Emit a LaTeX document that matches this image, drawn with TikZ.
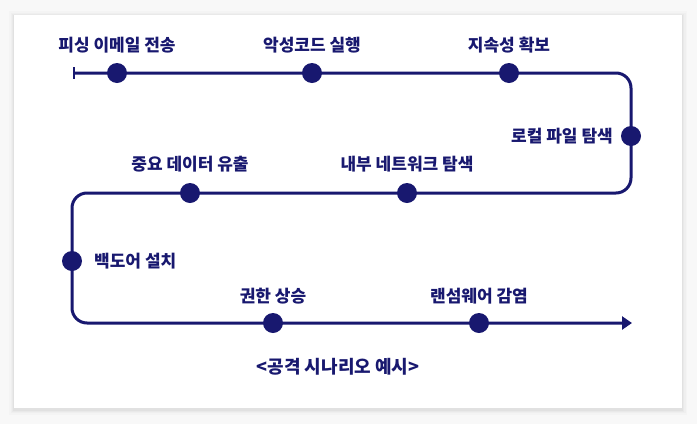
\documentclass[tikz,border=0pt]{standalone}
\usepackage{fontspec}
\setmainfont{Noto Sans CJK KR}
\usetikzlibrary{arrows.meta}
\definecolor{navy}{HTML}{18186F}
\definecolor{bggray}{HTML}{F8F8F8}
\tikzset{
  flow/.style={draw=navy,line width=3pt,rounded corners=15pt},
  dot/.style={circle,fill=navy,minimum size=20pt,inner sep=0pt},
  lbl/.style={text=navy,font=\fontsize{17}{20}\selectfont\bfseries,inner sep=0pt},
}
\begin{document}
\begin{tikzpicture}[x=1pt,y=-1pt]
\fill[bggray] (0,0) rectangle (697,424);
\useasboundingbox (0,0) rectangle (697,424);
% shadow
\foreach \d/\o in {5/0.015,3.5/0.02,2/0.025,1/0.03}{
  \fill[black,opacity=\o] (14-\d,15-\d+1) rectangle (682+\d,408+\d+1.5);
}
\fill[white] (14,15) rectangle (682,408);
% path coordinates
\coordinate (s) at (74,73);
\coordinate (c1) at (631,73);
\coordinate (c2) at (631,193);
\coordinate (c3) at (72,193);
\coordinate (c4) at (72,323);
\coordinate (e) at (632,323);
\draw[flow,-{Triangle[length=10pt,width=13pt]}] (s) -- (c1) -- (c2) -- (c3) -- (c4) -- (e);
\draw[navy,line width=2.5pt] (74,67) -- (74,79);
% dots
\node[dot] (d1) at (117,73) {};
\node[dot] (d2) at (312,73) {};
\node[dot] (d3) at (509,73) {};
\node[dot] (d4) at (631,136) {};
\node[dot] (d5) at (407,193) {};
\node[dot] (d6) at (190,193) {};
\node[dot] (d7) at (72,261) {};
\node[dot] (d8) at (273,323) {};
\node[dot] (d9) at (479,323) {};
% labels
\node[lbl] (l1) at (117,45) {피싱 이메일 전송};
\node[lbl] (l2) at (312,45) {악성코드 실행};
\node[lbl] (l3) at (509,45) {지속성 확보};
\node[lbl,anchor=east] (l4) at (613,136) {로컬 파일 탐색};
\node[lbl] (l5) at (407,164) {내부 네트워크 탐색};
\node[lbl] (l6) at (190,164) {중요 데이터 유출};
\node[lbl,anchor=west] (l7) at (94,261) {백도어 설치};
\node[lbl] (l8) at (273,296) {권한 상승};
\node[lbl] (l9) at (479,296) {랜섬웨어 감염};
\node[lbl,font=\fontsize{18}{21}\selectfont\bfseries] (cap) at (338,367) {<공격 시나리오 예시>};
\end{tikzpicture}
\end{document}
